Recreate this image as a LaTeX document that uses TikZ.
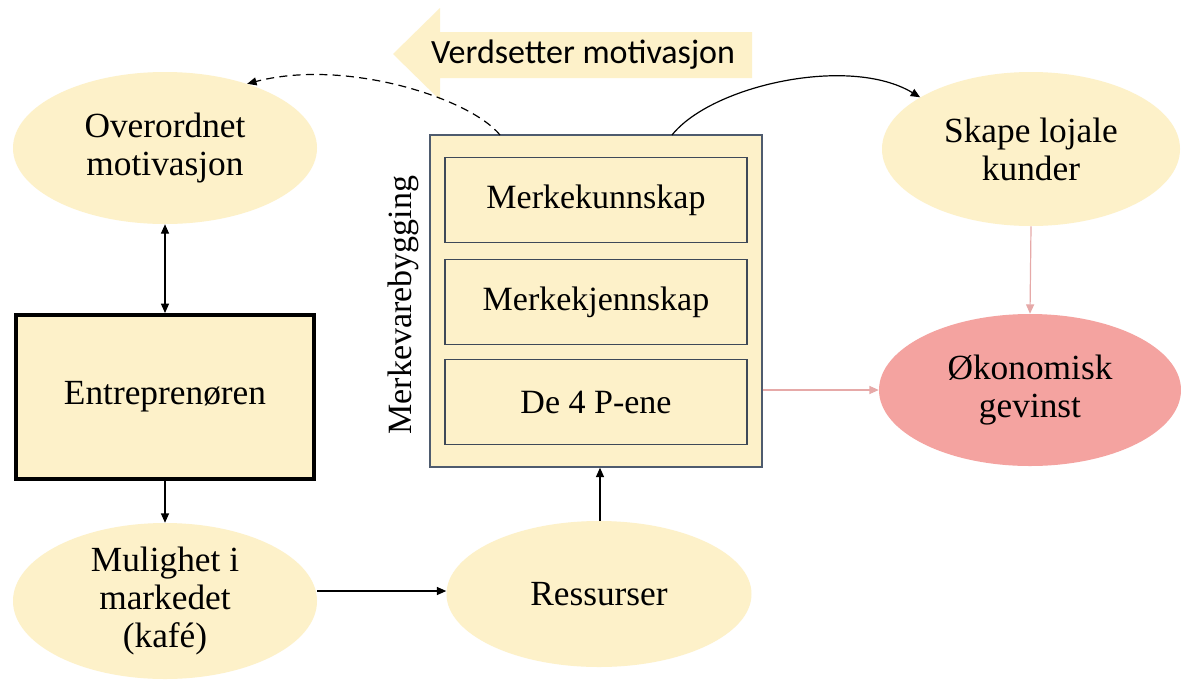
\documentclass[tikz,border=0pt]{standalone}
\usepackage{fontspec}
\setmainfont{Liberation Serif}
\newfontfamily\calfont{Carlito}
\usetikzlibrary{shapes.geometric,arrows.meta}
\definecolor{cream}{HTML}{FDF1C9}
\definecolor{rosefill}{HTML}{F4A3A0}
\definecolor{roseline}{HTML}{E6A9A8}
\definecolor{boxline}{HTML}{4E5B6E}
\begin{document}
\begin{tikzpicture}[x=0.75pt,y=-0.75pt,
  >={Triangle[length=7pt,width=6pt]},
  bubble/.style={ellipse,fill=cream,draw=none,inner sep=0pt,align=center,
    font=\fontsize{26.5}{28.5}\selectfont},
  pinkbubble/.style={bubble,fill=rosefill},
  layerbox/.style={rectangle,draw=boxline!80!black,line width=1pt,fill=cream,
    minimum width=302*0.75pt,minimum height=85*0.75pt,inner sep=0pt,
    font=\fontsize{25.5}{29}\selectfont},
  link/.style={->,line width=0.9pt,black},
  pinklink/.style={->,line width=0.9pt,roseline},
]
\useasboundingbox (0,0) rectangle (1181,679);
\fill[white] (0,0) rectangle (1181,679);

% banner arrow
\fill[cream] (752,32) -- (440,32) -- (440,8) -- (393,54) -- (440,100) -- (440,78) -- (752,78) -- cycle;
\node[font=\calfont\fontsize{25.5}{29}\selectfont,anchor=center] (banner) at (583,55) {Verdsetter motivasjon};

% left column
\node[bubble,minimum width=304*0.75pt,minimum height=152*0.75pt] (motiv) at (165,148) {Overordnet\\motivasjon};
\node[rectangle,draw=black,line width=3pt,fill=cream,minimum width=298*0.75pt,minimum height=164*0.75pt,
  font=\fontsize{26.5}{29}\selectfont] (entre) at (165,397) {Entreprenøren};
\node[bubble,minimum width=304*0.75pt,minimum height=156*0.75pt] (mulig) at (165,601) {Mulighet i\\markedet\\(kafé)};
\node[bubble,minimum width=305*0.75pt,minimum height=146*0.75pt] (ress) at (599,594) {Ressurser};

% brand building block
\node[rectangle,draw=boxline,line width=1.1pt,fill=cream,minimum width=332*0.75pt,minimum height=332*0.75pt,inner sep=0pt] (brand) at (596,301) {};
\node[layerbox] (kunn) at (596,200) {Merkekunnskap};
\node[layerbox] (kjenn) at (596,302) {Merkekjennskap};
\node[layerbox] (fourp) at (596,402) {De 4 P-ene};
\node[rotate=90,font=\fontsize{25.5}{29}\selectfont] (brandlabel) at (403,305) {Merkevarebygging};

% right column
\node[bubble,minimum width=298*0.75pt,minimum height=154*0.75pt] (lojal) at (1031,149) {Skape lojale\\kunder};
\node[pinkbubble,minimum width=302*0.75pt,minimum height=152*0.75pt] (gevinst) at (1030,390) {Økonomisk\\gevinst};

% connectors
\draw[<->,line width=0.9pt] (motiv.south) -- (entre.north);
\draw[link] (entre.south) -- (mulig.north);
\coordinate (mulright) at (317,591);
\draw[link] (mulright) -- (mulright -| ress.west);
\coordinate (resstop) at (600,521);
\draw[link] (resstop) -- (resstop |- brand.south);
\draw[pinklink] (brand.east |- gevinst.west) -- (gevinst.west);
\draw[pinklink] (lojal.south) -- (gevinst.north);
\coordinate (dashstart) at (500,135);
\coordinate (curvestart) at (672,135);
\draw[link,dashed,dash pattern=on 6pt off 4pt] (dashstart) .. controls (470,98) and (345,58) .. (motiv.38);
\draw[link] (curvestart) .. controls (712,85) and (850,55) .. (lojal.155);
\end{tikzpicture}
\end{document}
